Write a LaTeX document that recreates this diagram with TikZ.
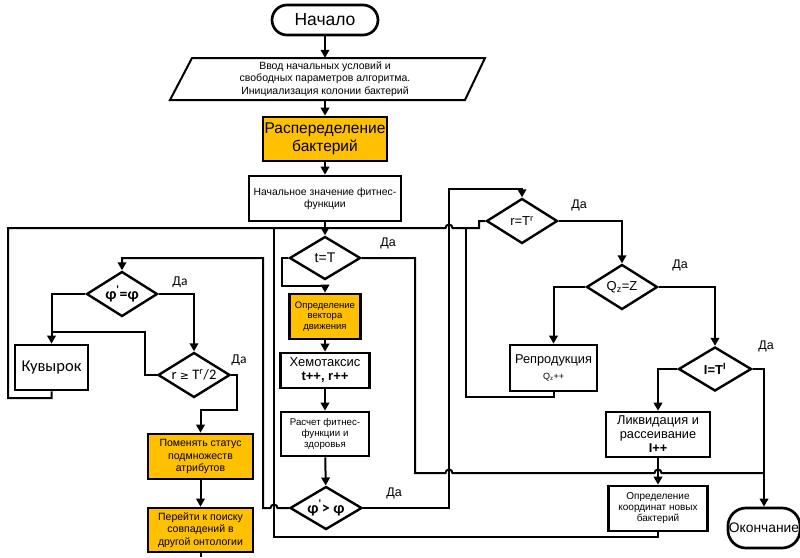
\documentclass[tikz,border=0pt]{standalone}
\usepackage{fontspec}
\setmainfont{Liberation Sans}
\newfontfamily\calfont{Carlito}
\newfontfamily\djfont{DejaVu Sans}
\usetikzlibrary{shapes.geometric,arrows.meta}
\definecolor{orangeC}{HTML}{FFC000}
\tikzset{
  box/.style={draw, line width=2.7pt, inner sep=1pt, align=center},
  obox/.style={box, fill=orangeC},
  term/.style={box},
  outline/.style={line width=2pt, line join=miter},
  dia/.style={draw, diamond, line width=2.4pt, inner sep=0pt},
  con/.style={line width=2pt},
  arr/.style={con, -{Triangle[length=8pt,width=8.5pt]}},
  lbl/.style={inner sep=0pt, font=\fontsize{12.5}{12.5}\selectfont},
  clbl/.style={inner sep=0pt, font=\calfont\fontsize{13.5}{13.5}\selectfont},
  fs/.style={font=\fontsize{#1}{#1}\selectfont}
}
\begin{document}
\begin{tikzpicture}[x=1pt,y=-1pt]
\useasboundingbox (0,0) rectangle (800,557);

% ---- main column top
\node[term, rounded corners=15pt, minimum width=106pt, minimum height=30pt, font=\fontsize{17.5}{17.5}\selectfont] (start) at (325,20) {Начало};
\draw[outline] (192,58) -- (485,58) -- (465,100) -- (170,100) -- cycle;
\node[inner sep=0pt, align=center, minimum width=260pt, minimum height=42pt, font=\fontsize{10.5}{12.5}\selectfont] (vvod) at (325,79) {Ввод начальных условий и\\свободных параметров алгоритма.\\Инициализация колонии бактерий};
\node[obox, minimum width=124pt, minimum height=44pt, font=\fontsize{15.5}{17.5}\selectfont] (raspr) at (325,139) {Распеределение\\бактерий};
\node[box, minimum width=152pt, minimum height=45pt, font=\fontsize{10.4}{12}\selectfont] (nach) at (325,198.5) {Начальное значение фитнес-\\функции};

% ---- middle column
\node[dia, minimum width=71pt, minimum height=43pt, label={[fs=14]center:t=T}] (tT) at (325,258) {};
\node[obox, minimum width=71pt, minimum height=45pt, font=\fontsize{9.5}{10.5}\selectfont] (vek) at (325,316.5) {Определение\\вектора\\движения};
\node[box, minimum width=89pt, minimum height=35pt, font=\fontsize{13}{14}\selectfont] (hem) at (325,370.5) {Хемотаксис\\\textbf{t++, r++}};
\node[box, minimum width=88pt, minimum height=44pt, font=\fontsize{9.7}{11}\selectfont] (rasch) at (325,434) {Расчет фитнес-\\функции и\\здоровья};
\node[dia, minimum width=72pt, minimum height=43pt, label={[font=\calfont\bfseries\fontsize{16}{16}\selectfont]center:φ\textsuperscript{'}> φ}] (phigt) at (326,508) {};

% ---- left column
\node[dia, minimum width=71pt, minimum height=45pt, label={[font=\calfont\bfseries\fontsize{16}{16}\selectfont]center:φ\textsuperscript{'}=φ}] (phieq) at (122,294) {};
\node[dia, minimum width=72pt, minimum height=45pt, label={[font=\calfont\fontsize{14.5}{14.5}\selectfont]center:r {\djfont\fontsize{11}{11}\selectfont≥} T\textsuperscript{r}/2}] (rge) at (194,375) {};
\node[box, minimum width=73pt, minimum height=45pt, font=\calfont\fontsize{16.5}{16.5}\selectfont] (kuv) at (51.5,367.5) {Кувырок};
\node[obox, minimum width=105pt, minimum height=45pt, font=\fontsize{10.5}{12.5}\selectfont] (pom) at (200.5,456.5) {Поменять статус\\подмножеств\\атрибутов};
\node[obox, minimum width=105pt, minimum height=44pt, font=\fontsize{10.5}{12.5}\selectfont] (perey) at (200.5,530) {Перейти к поиску\\совпадений в\\другой онтологии};

% ---- right column
\node[dia, minimum width=71pt, minimum height=45pt, label={[fs=13]center:r=T\textsuperscript{r}}] (rT) at (522,221) {};
\node[dia, minimum width=71pt, minimum height=45pt, label={[fs=13]center:Q\textsubscript{z}=Z}] (Qz) at (622,287) {};
\node[dia, minimum width=73pt, minimum height=44pt, label={[font=\bfseries\fontsize{13}{13}\selectfont]center:I=T\textsuperscript{I}}] (IT) at (715,369) {};
\node[box, minimum width=87pt, minimum height=46pt, font=\fontsize{12.8}{16}\selectfont] (repr) at (553.5,368) {Репродукция\\{\fontsize{9}{9}\selectfont Q\textsubscript{z}++}};
\node[box, minimum width=104pt, minimum height=45pt, font=\fontsize{12.8}{14}\selectfont] (likv) at (658,434.5) {Ликвидация и\\рассеивание\\\textbf{I++}};
\node[box, minimum width=99pt, minimum height=45pt, font=\fontsize{10}{11}\selectfont] (koord) at (658,508.5) {Определение\\координат новых\\бактерий};
\node[term, rounded corners=18pt, minimum width=71pt, minimum height=40pt, font=\fontsize{13.8}{14}\selectfont] (okon) at (764,528) {Окончание};

% ---- labels
\node[clbl] (da1) at (180,282) {Да};
\node[clbl] (da2) at (239,360) {Да};
\node[lbl] (da3) at (388,243) {Да};
\node[lbl] (da4) at (394,493) {Да};
\node[lbl] (da5) at (579,205) {Да};
\node[lbl] (da6) at (680,265) {Да};
\node[lbl] (da7) at (766,346) {Да};

% ---- connectors, main column
\draw[arr] (start) -- (vvod);
\draw[arr] (vvod) -- (raspr);
\draw[arr] (raspr) -- (nach);
\draw[arr] (nach) -- (tT);
\draw[arr] (tT.west) -- (282,258) -- (282,286) -| (vek.north);
\draw[arr] (vek) -- (hem);
\draw[arr] (hem) -- (rasch);
\draw[arr] (rasch) -- (phigt);

% t=T yes -> end
\draw[con] (tT.east) -| (415,473) -- (445.5,473) arc[start angle=180,end angle=0,radius=3.5pt] -- (654.5,473) arc[start angle=180,end angle=0,radius=3.5pt] -- (764,473);

% phi'>phi no -> phi'=phi
\draw[arr] (phigt.west) -- (277.5,508) arc[start angle=0,end angle=180,radius=3.5pt] -- (263,508) -- (263,258) -| (phieq.north);
% phi'>phi yes -> r=T^r
\draw[arr] (phigt.east) -| (449,189) -| (rT.north);

% top bus from Kuvyrok loop
\draw[con] (kuv.south) -- (51.5,398) -- (8,398) -- (8,228) -- (445.5,228) arc[start angle=180,end angle=0,radius=3.5pt] -- (479,228) -- (479,221) -- (rT.west);
% bottom loop from new coordinates
\draw[con] (koord.south) |- (274,537) -- (274,228);
% reproduction loop
\draw[con] (repr.south) -- (553.5,397) -- (466,397) -- (466,228);

% left column
\draw[arr] (phieq.west) -| (kuv.north);
\draw[arr] (phieq.east) -| (rge.north);
\draw[con] (rge.west) -- (145,375) -- (145,332) -- (51.5,332);
\draw[arr] (rge.east) -- (237,375) -- (237,410) -- (200.5,410) -- (pom.north);
\draw[arr] (pom) -- (perey);
\draw[con] (perey.south) -- (200.5,557);

% right column
\draw[arr] (rT.east) -| (Qz.north);
\draw[arr] (Qz.east) -| (IT.north);
\draw[arr] (Qz.west) -| (repr.north);
\draw[arr] (IT.west) -| (likv.north);
\draw[arr] (IT.east) -| (okon.north);
\draw[arr] (likv) -- (koord);
\end{tikzpicture}
\end{document}
